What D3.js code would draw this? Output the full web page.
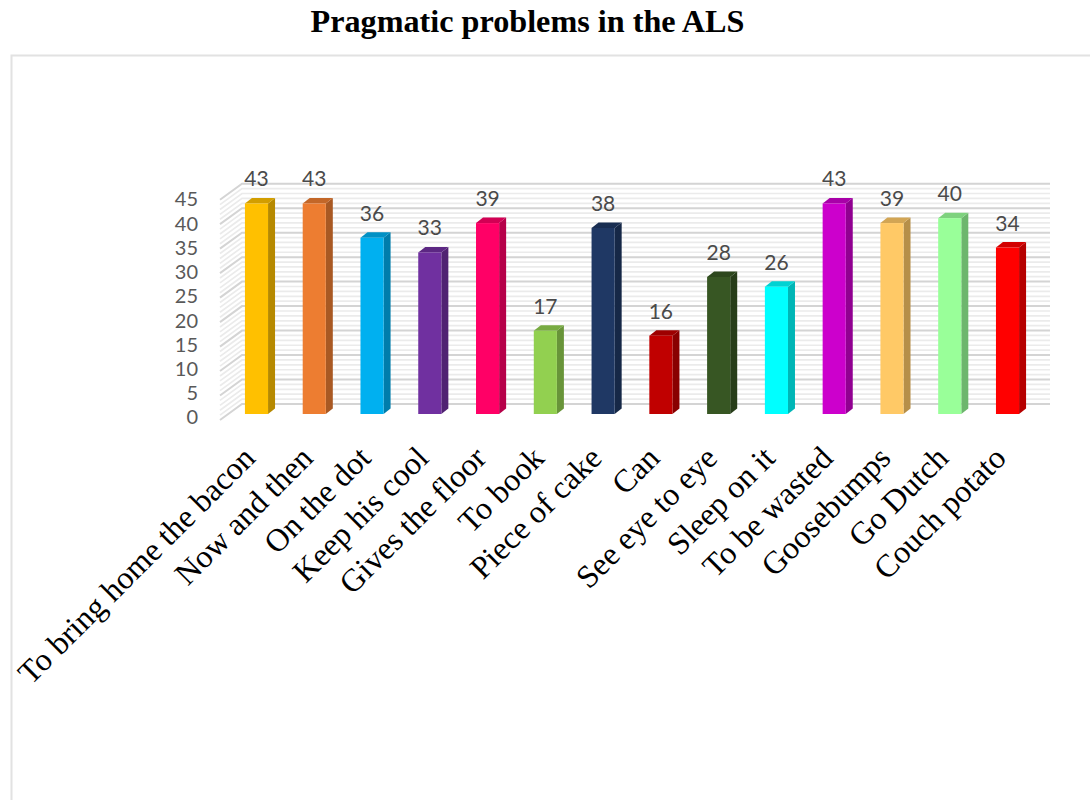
<!DOCTYPE html>
<html>
<head>
<meta charset="utf-8">
<script src="https://cdnjs.cloudflare.com/ajax/libs/d3/7.8.5/d3.min.js"></script>
<style>
  html, body { margin: 0; padding: 0; background: #fff; overflow: hidden; }
  svg { display: block; }
</style>
</head>
<body>
<div id="chart"></div>
<script>
const categories = ['To bring home the bacon', 'Now and then', 'On the dot', 'Keep his cool', 'Gives the floor',
  'To book', 'Piece of cake', 'Can', 'See eye to eye', 'Sleep on it', 'To be wasted', 'Goosebumps', 'Go Dutch', 'Couch potato'];
const values = [43, 43, 36, 33, 39, 17, 38, 16, 28, 26, 43, 39, 40, 34];
const barColors = ['#ffc000', '#ed7d31', '#00b0f0', '#7030a0', '#ff0066', '#92d050', '#1f3864', '#c00000',
  '#375623', '#00ffff', '#cc00cc', '#ffc966', '#99ff99', '#ff0000'];
const majorTicks = [0, 5, 10, 15, 20, 25, 30, 35, 40, 45];
const minorTicks = d3.range(0, 46).filter(d => d % 5 !== 0);

const width = 1090, height = 800;
const depth = { dx: 7, dy: 5.5 };      // bar side
const wall = { dx: 22, dy: 16 };       // side wall, front to back

const svg = d3.select('#chart').append('svg')
  .attr('width', width)
  .attr('height', height);

// frame, runs off the right and bottom of the picture
svg.append('path')
  .attr('d', 'M11.5,800V55.5H1090')
  .attr('fill', 'none')
  .attr('stroke', '#e2e2e2')
  .attr('stroke-width', 2);

svg.append('text')
  .attr('x', 527.5)
  .attr('y', 32)
  .attr('text-anchor', 'middle')
  .style('font', 'bold 32.2px "Liberation Serif"')
  .style('fill', '#000')
  .text('Pragmatic problems in the ALS');

const x = d3.scaleBand()
  .domain(categories)
  .range([227.6, 1036.4])
  .paddingInner(0.6)
  .paddingOuter(0.3);

const y = d3.scaleLinear().domain([0, 45]).range([414, 193.7]);

// tick labels sit on a slightly tighter spacing than the bars
const yLabels = d3.scaleLinear().domain([0, 45]).range([417.5, 199.5]);

const backY = v => y(v) - 10;
const frontY = v => backY(v) + wall.dy;
const backLeft = 242, backRight = 1050, frontLeft = backLeft - wall.dx;

function drawGrid(ticks, color, w) {
  const g = svg.append('g').attr('fill', 'none').attr('stroke', color).attr('stroke-width', w);
  g.selectAll('path').data(ticks).enter().append('path')
    .attr('d', d => `M${frontLeft},${frontY(d)}L${backLeft},${backY(d)}H${backRight}`);
}
drawGrid(minorTicks, '#ebebeb', 1.7);
drawGrid(majorTicks, '#d4d4d4', 2);

const axis = svg.append('g')
  .attr('transform', 'translate(204,0)')
  .call(d3.axisLeft(yLabels).tickValues(majorTicks).tickSize(0).tickPadding(6));
axis.select('.domain').remove();
axis.selectAll('text')
  .style('font', '20px Lato')
  .style('fill', '#595959');

const bars = svg.selectAll('.bar')
  .data(values)
  .enter().append('g')
  .attr('class', 'bar');

const bw = x.bandwidth();
const px = (d, i) => x(categories[i]);

bars.append('path')
  .attr('fill', (d, i) => d3.color(barColors[i]).darker(0.95))
  .attr('d', (d, i) => {
    const r = px(d, i) + bw;
    return `M${r},${y(d)}l${depth.dx},${-depth.dy}V${y(0) - depth.dy}l${-depth.dx},${depth.dy}Z`;
  });

bars.append('path')
  .attr('fill', (d, i) => d3.color(barColors[i]).darker(0.55))
  .attr('d', (d, i) => {
    const l = px(d, i);
    return `M${l},${y(d)}l${depth.dx},${-depth.dy}h${bw}l${-depth.dx},${depth.dy}Z`;
  });

bars.append('rect')
  .attr('x', px)
  .attr('y', d => y(d))
  .attr('width', bw)
  .attr('height', d => y(0) - y(d))
  .attr('fill', (d, i) => barColors[i]);

bars.append('text')
  .attr('x', (d, i) => px(d, i) + bw / 2)
  .attr('y', d => y(d) - 17)
  .attr('text-anchor', 'middle')
  .style('font', '21px Lato')
  .style('fill', '#4a4a4a')
  .text(d => d);

svg.append('g').selectAll('text')
  .data(categories)
  .enter().append('text')
  .attr('transform', d => `translate(${x(d) + bw / 2 - 7.5},${452}) rotate(-45)`)
  .attr('text-anchor', 'end')
  .attr('dy', '0.35em')
  .style('font', '32px "Liberation Serif"')
  .style('fill', '#000')
  .text(d => d);
</script>
</body>
</html>
